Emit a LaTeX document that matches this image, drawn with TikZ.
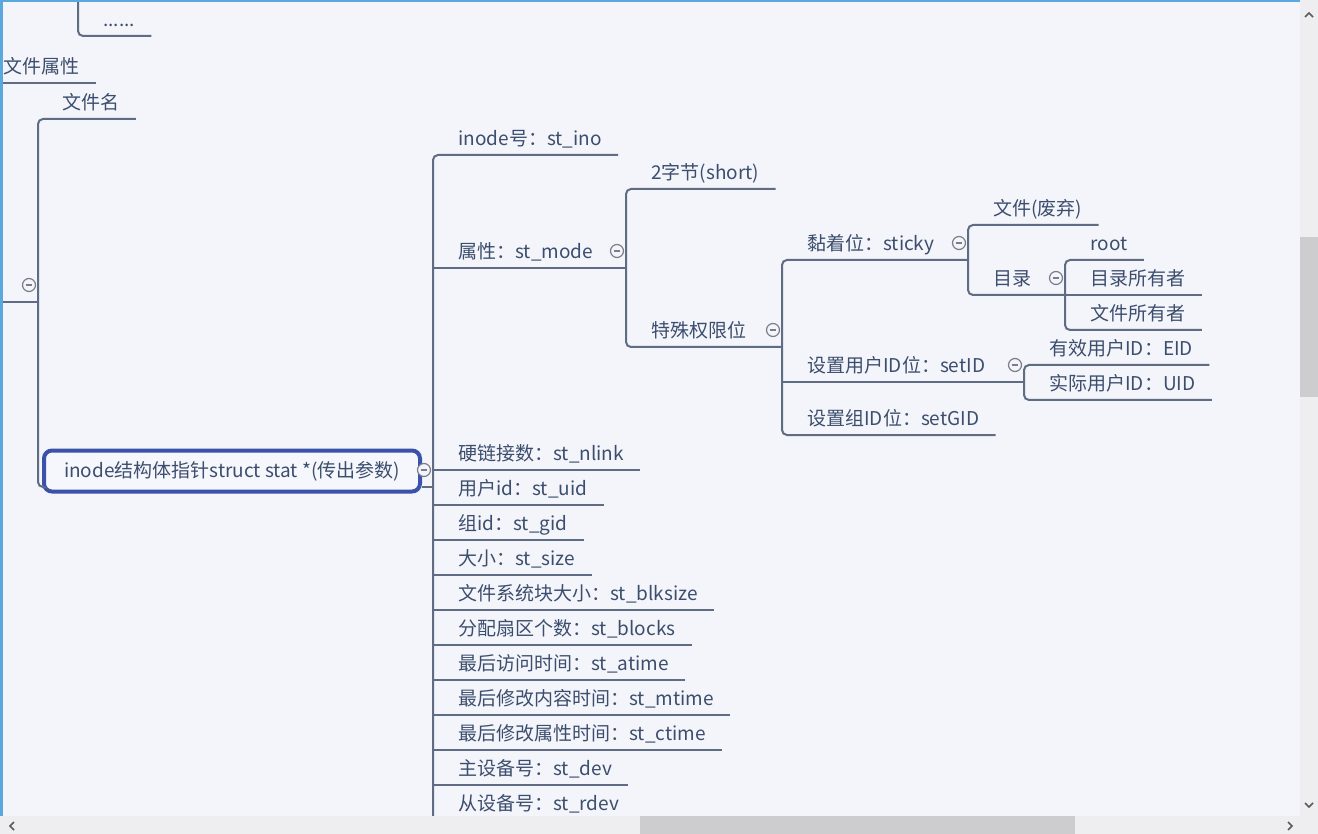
\documentclass[tikz,border=0pt]{standalone}
\usepackage{fontspec}
\setmainfont{Noto Sans CJK SC}
\usetikzlibrary{calc}

\definecolor{bgc}{RGB}{244,245,250}
\definecolor{txtc}{RGB}{60,78,110}
\definecolor{linec}{RGB}{95,108,132}
\definecolor{foldc}{RGB}{120,126,138}
\definecolor{boxc}{RGB}{58,82,170}
\definecolor{boxfill}{RGB}{246,247,252}
\definecolor{winc}{RGB}{90,168,222}
\definecolor{sbtrack}{RGB}{238,238,240}
\definecolor{sbthumb}{RGB}{205,205,207}
\definecolor{arrc}{RGB}{90,90,95}

\tikzset{
  topic/.style={anchor=south west, inner xsep=8pt, inner ysep=2pt, text height=8.5pt, text depth=2.5pt, text=txtc, font=\fontsize{9.5}{11}\selectfont},
  branch/.style={draw=linec, line width=1pt, rounded corners=2.5pt},
  fold/.style={circle, draw=foldc, line width=.6pt, fill=bgc, minimum size=6.5pt, inner sep=0pt,
    path picture={\draw[foldc, line width=.6pt] ([xshift=1.6pt]path picture bounding box.west) -- ([xshift=-1.6pt]path picture bounding box.east);}},
  keybox/.style={draw=boxc, line width=2pt, rounded corners=4pt, fill=boxfill, minimum width=188pt, minimum height=20.5pt, text=txtc, font=\fontsize{9.5}{11}\selectfont}
}

\begin{document}
\begin{tikzpicture}[x=0.5pt,y=-0.5pt]
\useasboundingbox (0,0) rectangle (1318,834);
\fill[bgc] (0,0) rectangle (1318,834);

\coordinate (dotsfork) at (78,0);
\coordinate (rootline) at (0,302);
\coordinate (rootfork) at (38,302);
\coordinate (fnamefork) at (38,487);
\coordinate (inodefork) at (433,487);
\coordinate (modefork) at (626,268);
\coordinate (specialfork) at (782,347);
\coordinate (stickyfork) at (968,260);
\coordinate (dirfork) at (1065,295);
\coordinate (setidfork) at (1024,382);

\node[topic] (dots) at (87,36) {......};
\node[topic] (fattr) at (-13,83) {文件属性};
\node[topic] (fname) at (46,119) {文件名};
\node[keybox] (stat) at (232,471) {inode结构体指针struct stat *(传出参数)};

\foreach \nm/\yy/\txt in {ino/155/{inode号：st\_ino}, mode/268/{属性：st\_mode}, nlink/470/{硬链接数：st\_nlink},
  uid/505/{用户id：st\_uid}, gid/540/{组id：st\_gid}, size/575/{大小：st\_size}, blksize/610/{文件系统块大小：st\_blksize},
  blocks/645/{分配扇区个数：st\_blocks}, atime/680/{最后访问时间：st\_atime}, mtime/715/{最后修改内容时间：st\_mtime},
  ctime/750/{最后修改属性时间：st\_ctime}, dev/785/{主设备号：st\_dev}, rdev/820/{从设备号：st\_rdev}}
  \node[topic] (\nm) at (442,\yy) {\txt};

\node[topic] (short) at (635,189) {2字节(short)};
\node[topic] (special) at (635,347) {特殊权限位};
\foreach \nm/\yy/\txt in {sticky/260/{黏着位：sticky}, setid/382/{设置用户ID位：setID}, setgid/435/{设置组ID位：setGID}}
  \node[topic] (\nm) at (791,\yy) {\txt};
\node[topic] (aband) at (977,225) {文件(废弃)};
\node[topic] (dir) at (977,295) {目录};
\foreach \nm/\yy/\txt in {root/260/root, dirown/295/目录所有者, fileown/330/文件所有者}
  \node[topic] (\nm) at (1074,\yy) {\txt};
\node[topic] (eid) at (1033,365) {有效用户ID：EID};
\node[topic] (ruid) at (1033,400) {实际用户ID：UID};

\draw[branch] (dotsfork) |- (dots.south east);
\draw[branch] (fattr.south west) -- (fattr.south east);
\draw[branch] (fname.south east) -| (fnamefork) -- ([yshift=-8pt]stat.west);
\draw[branch] (rootline) -- (rootfork);
\draw[branch] ([yshift=-8pt]stat.east) -- (inodefork);
\draw[branch] (ino.south east) -| (inodefork) -- (inodefork |- rdev.south) -- ++(0,20);
\foreach \nm in {nlink,uid,gid,size,blksize,blocks,atime,mtime,ctime,dev,rdev}
  \draw[branch] (inodefork |- \nm.south) -- (\nm.south east);
\draw[branch] (inodefork |- mode.south) -- (modefork);
\draw[branch] (short.south east) -| (modefork) |- (specialfork);
\draw[branch] (stickyfork) -| (specialfork) |- (setgid.south east);
\draw[branch] (specialfork |- setid.south) -- (setidfork);
\draw[branch] (aband.south east) -| (stickyfork) |- (dirfork);
\draw[branch] (root.south east) -| (dirfork) |- (fileown.south east);
\draw[branch] (dirfork) -- (dirown.south east);
\draw[branch] (eid.south east) -| (setidfork) |- (ruid.south east);

\foreach \fk in {rootfork,inodefork,modefork,specialfork,stickyfork,dirfork,setidfork}
  \node[fold] (\fk-fold) at ([shift={(-4.5pt,8.5pt)}]\fk) {};

% window frame and scroll bars
\fill[winc] (0,0) rectangle (1318,2);
\fill[winc] (0,0) rectangle (3,816);
\fill[sbtrack] (1300,0) rectangle (1318,834);
\fill[sbtrack] (0,816) rectangle (1318,834);
\fill[sbthumb] (1300,237) rectangle (1318,397);
\fill[sbthumb] (640,816) rectangle (1075,834);
\draw[arrc, line width=.8pt] (1305,17) -- (1309,13) -- (1313,17);
\draw[arrc, line width=.8pt] (1305,803) -- (1309,807) -- (1313,803);
\draw[arrc, line width=.8pt] (14,822) -- (10,826) -- (14,830);
\draw[arrc, line width=.8pt] (1288,822) -- (1292,826) -- (1288,830);
\end{tikzpicture}
\end{document}
